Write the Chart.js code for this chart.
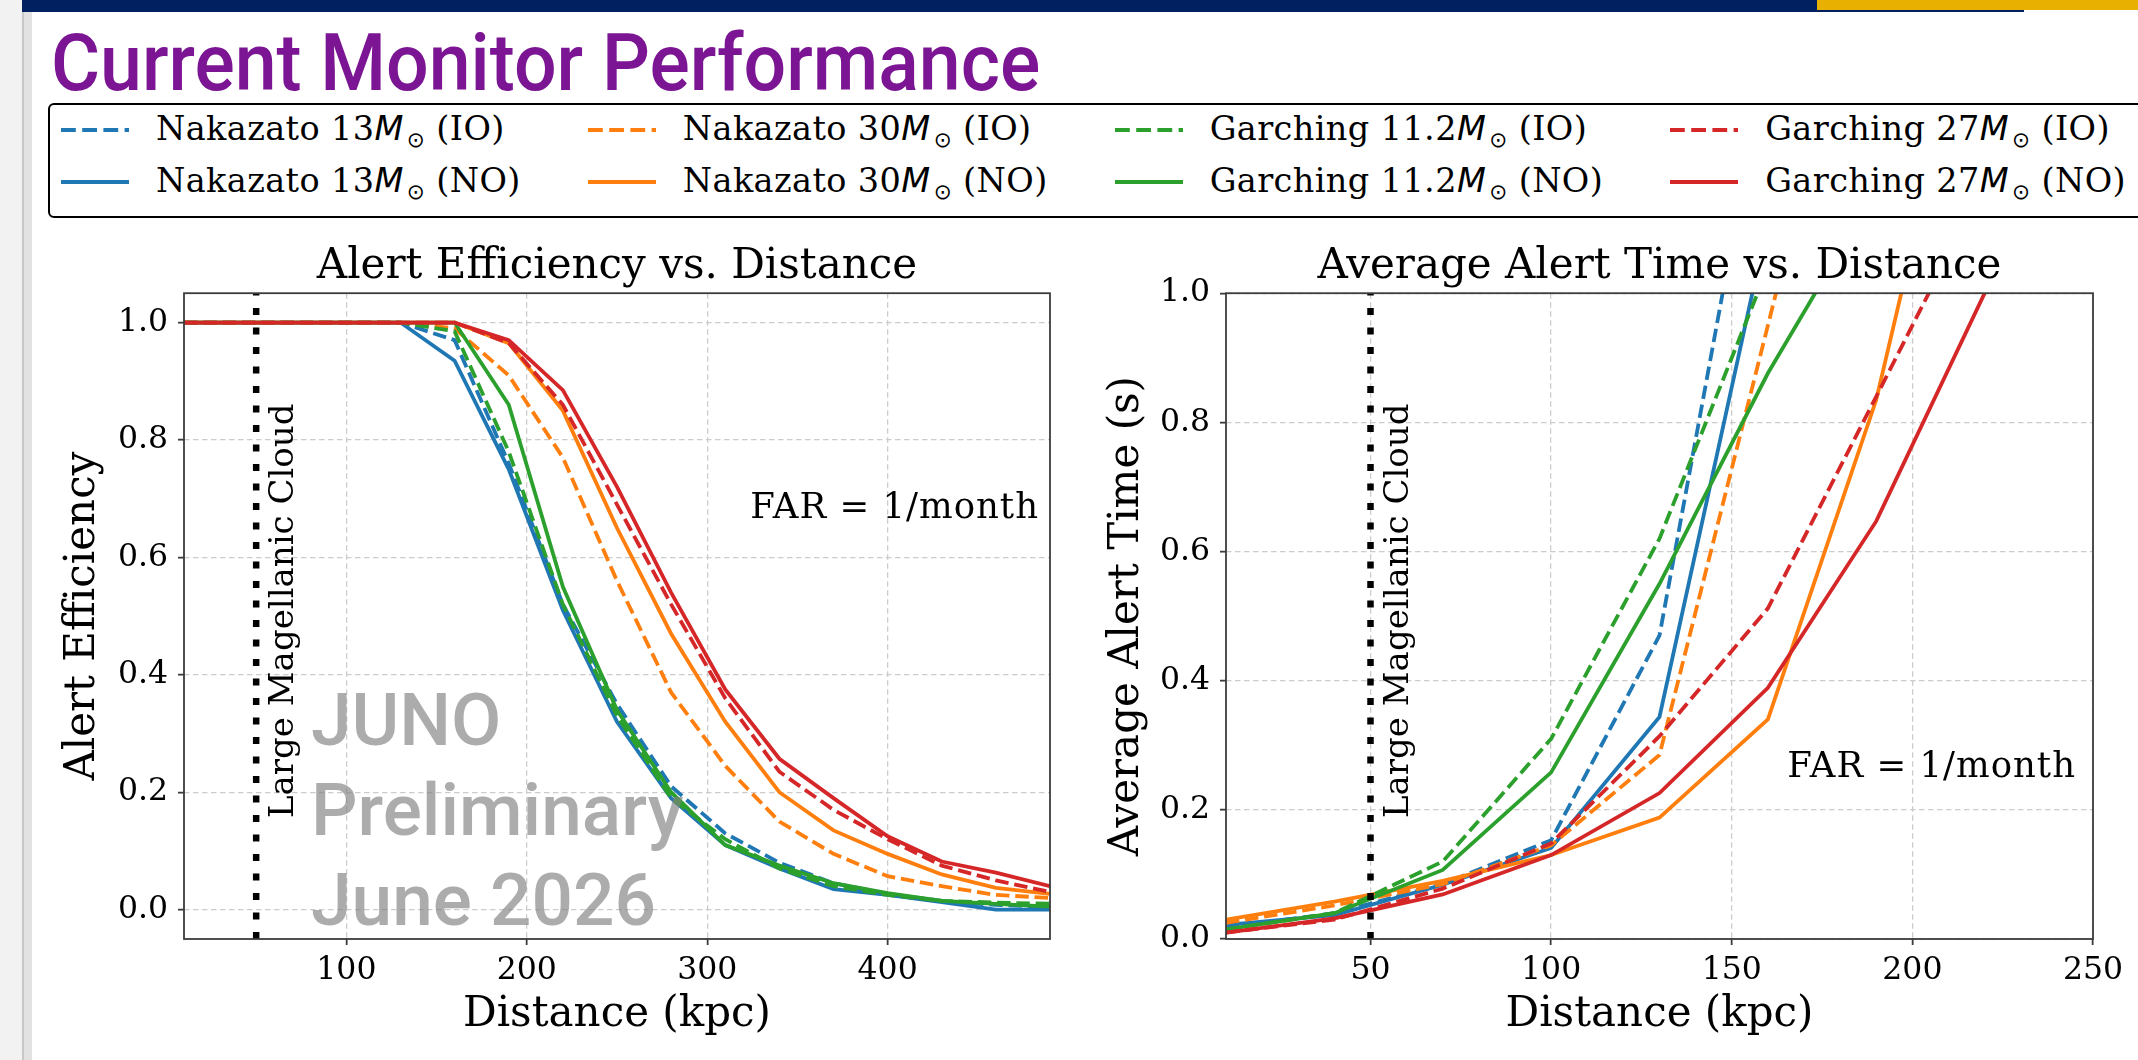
<!DOCTYPE html>
<html>
<head>
<meta charset="utf-8">
<title>Current Monitor Performance</title>
<script src="https://cdn.jsdelivr.net/npm/chart.js@4.4.1/dist/chart.umd.min.js"></script>
<style>
    html, body { margin: 0; padding: 0; background: #ffffff; }
    body { position: relative; width: 2138px; height: 1060px; overflow: hidden; }
    .side { position: absolute; left: 0; top: 0; width: 22px; height: 1060px; background: #f2f2f2; }
    .side-edge { position: absolute; left: 22px; top: 12px; width: 2px; height: 1048px; background: #c8c8c8; }
    .side-shade { position: absolute; left: 24px; top: 12px; width: 8px; height: 1048px; background: #e2e2e2; }
    .bar { position: absolute; left: 22px; top: 0; width: 2002px; height: 12px; background: #002060; }
    .bar-gold { position: absolute; left: 1817px; top: 0; width: 321px; height: 10px; background: #e8b000; }
    #slideTitle { position: absolute; left: 51px; top: 23px; margin: 0; font: 500 80px/80px Roboto, sans-serif; color: #7b1593; white-space: nowrap; transform-origin: 0 0; }
    #legend { position: absolute; left: 48px; top: 103px; width: 2110px; height: 115px; box-sizing: border-box; border: 2.7px solid #000; border-radius: 6px; display: flex; gap: 67px; padding-left: 11px; }
    .legend-col { display: flex; flex-direction: column; padding-top: 7px; }
    .legend-row { position: relative; height: 52px; display: flex; align-items: flex-start; font: 33.5px/33.5px "DejaVu Serif"; letter-spacing: 0.4px; color: #000; white-space: nowrap; }
    .legend-row svg { flex: none; margin-top: 14.3px; margin-right: 27px; }
    .legend-row .m { font-family: "DejaVu Sans"; font-style: italic; }
    .legend-row .sun { position: relative; top: 6.5px; font: 21.5px "DejaVu Sans"; margin-left: 3px; }
    .plot { position: absolute; top: 220px; height: 840px; }
    #watermark { position: absolute; left: 311px; top: 675px; font: 500 73px/90px Roboto, sans-serif; color: rgba(128, 128, 128, 0.65); pointer-events: none; white-space: nowrap; }
</style>
</head>
<body>
<div class="side"></div>
<div class="side-edge"></div>
<div class="side-shade"></div>
<div class="bar"></div>
<div class="bar-gold"></div>
<h1 id="slideTitle">Current Monitor Performance</h1>
<div id="legend"></div>
<div class="plot" style="left: 40px; width: 1040px;"><canvas id="efficiencyCanvas"></canvas></div>
<div class="plot" style="left: 1080px; width: 1058px;"><canvas id="alertTimeCanvas"></canvas></div>
<div id="watermark">JUNO<br>Preliminary<br>June 2026</div>
<script>
// models in legend order, each with IO (dashed) and NO (solid)
const modelNames = ['Nakazato', 'Nakazato', 'Garching', 'Garching'];
const modelMasses = ['13', '30', '11.2', '27'];
const massOrderings = ['IO', 'NO'];
const lmcDistance = 50;

// alert efficiency vs distance (kpc)
const efficiencyDistances = [10, 40, 70, 100, 130, 160, 190, 220, 250, 280, 310, 340, 370, 400, 430, 460, 490];
const efficiencyNakazato13IO = [1, 1, 1, 1, 1, 0.97, 0.76, 0.52, 0.35, 0.21, 0.13, 0.08, 0.045, 0.027, 0.015, 0.008, 0.005];
const efficiencyNakazato13NO = [1, 1, 1, 1, 1, 0.935, 0.75, 0.51, 0.32, 0.19, 0.11, 0.07, 0.035, 0.025, 0.013, 0.0, 0.0];
const efficiencyNakazato30IO = [1, 1, 1, 1, 1, 0.99, 0.91, 0.77, 0.56, 0.37, 0.245, 0.15, 0.095, 0.057, 0.04, 0.025, 0.02];
const efficiencyNakazato30NO = [1, 1, 1, 1, 1, 1, 0.965, 0.85, 0.65, 0.47, 0.32, 0.2, 0.135, 0.095, 0.06, 0.037, 0.027];
const efficiencyGarching11IO = [1, 1, 1, 1, 1, 0.985, 0.78, 0.52, 0.33, 0.19, 0.12, 0.07, 0.04, 0.025, 0.015, 0.012, 0.01];
const efficiencyGarching11NO = [1, 1, 1, 1, 1, 1, 0.86, 0.55, 0.34, 0.2, 0.11, 0.075, 0.045, 0.028, 0.015, 0.01, 0.005];
const efficiencyGarching27IO = [1, 1, 1, 1, 1, 1, 0.965, 0.86, 0.69, 0.52, 0.36, 0.235, 0.17, 0.12, 0.075, 0.05, 0.03];
const efficiencyGarching27NO = [1, 1, 1, 1, 1, 1, 0.97, 0.885, 0.72, 0.54, 0.375, 0.257, 0.19, 0.125, 0.082, 0.063, 0.04];
const efficiencyXLimits = [10, 490];
const efficiencyYLimits = [-0.05, 1.05];
const efficiencyXTicks = [100, 200, 300, 400];
const efficiencyYTicks = [0, 0.2, 0.4, 0.6, 0.8, 1.0];

// average alert time (s) vs distance (kpc), curves leave the plot above 1 s
const alertTimeDistances = [10, 40, 70, 100, 130, 160, 190, 220, 250];
const alertTimeNakazato13IO = [0.018, 0.04, 0.085, 0.153, 0.47, 1.38];
const alertTimeNakazato13NO = [0.022, 0.037, 0.084, 0.141, 0.344, 1.11];
const alertTimeNakazato30IO = [0.025, 0.052, 0.085, 0.145, 0.285, 0.95, 1.62];
const alertTimeNakazato30NO = [0.03, 0.058, 0.09, 0.13, 0.188, 0.34, 0.835, 1.55];
const alertTimeGarching11IO = [0.015, 0.04, 0.12, 0.31, 0.62, 1.04];
const alertTimeGarching11NO = [0.015, 0.04, 0.107, 0.258, 0.55, 0.876, 1.16];
const alertTimeGarching27IO = [0.01, 0.03, 0.078, 0.148, 0.314, 0.512, 0.84, 1.17];
const alertTimeGarching27NO = [0.01, 0.032, 0.069, 0.13, 0.226, 0.389, 0.647, 1.0, 1.4];
const alertTimeXLimits = [10, 250];
const alertTimeYLimits = [0, 1];
const alertTimeXTicks = [50, 100, 150, 200, 250];
const alertTimeYTicks = [0, 0.2, 0.4, 0.6, 0.8, 1.0];

const modelColors = ['#1f77b4', '#ff7f0e', '#2ca02c', '#d62728'];
const serif = '"DejaVu Serif", serif';

Chart.defaults.font.family = serif;
Chart.defaults.color = '#000';

// matplotlib look: full frame, LMC label, FAR note
const annotationPlugin = {
    id: 'annotations',
    afterDatasetsDraw(chart, args, opts) {
        const {ctx, chartArea: {left, right, top, bottom}, scales: {x}} = chart;
        ctx.save();
        ctx.strokeStyle = '#3c3c3c';
        ctx.lineWidth = 1.8;
        ctx.strokeRect(left, top, right - left, bottom - top);
        ctx.fillStyle = '#000';
        ctx.font = '34px ' + serif;
        ctx.textBaseline = 'alphabetic';
        ctx.translate(x.getPixelForValue(lmcDistance) + 37, bottom - 121);
        ctx.rotate(-Math.PI / 2);
        ctx.fillText('Large Magellanic Cloud', 0, 0);
        ctx.restore();

        ctx.save();
        ctx.fillStyle = '#000';
        ctx.font = '35.5px ' + serif;
        ctx.letterSpacing = '1px';
        ctx.textAlign = 'right';
        ctx.textBaseline = 'alphabetic';
        ctx.fillText('FAR = 1/month', right - opts.farRight, top + opts.farBaseline);
        ctx.restore();
    }
};

class DistanceChartView {

    #canvas;
    #chart;

    constructor(canvas) {
        this.#canvas = canvas;
    }

    displayChart(chartDescription) {
        if (this.#chart != null) {
            this.#chart.destroy();
        }
        this.#chart = new Chart(
            this.#canvas,
            {
                type: 'line',
                data: this.#getData(chartDescription),
                options: this.#getOptions(chartDescription),
                plugins: [annotationPlugin]
            });
    }

    #getData(chartDescription) {
        const datasets = chartDescription.series.map((values, i) => {
            const model = Math.floor(i / 2);
            const ordering = i % 2;
            return {
                label: modelNames[model] + ' ' + modelMasses[model] + 'M☉ (' + massOrderings[ordering] + ')',
                data: values.map((y, k) => ({x: chartDescription.distances[k], y: y})),
                borderColor: modelColors[model],
                borderWidth: 3.8,
                borderDash: ordering == 0 ? [13.5, 5.8] : [],
                pointRadius: 0,
                tension: 0,
                order: 8 - i // later series drawn on top
            };
        });
        datasets.push({
            label: 'Large Magellanic Cloud',
            data: [
                {x: lmcDistance, y: chartDescription.yLimits[0]},
                {x: lmcDistance, y: chartDescription.yLimits[1]}
            ],
            borderColor: '#000',
            borderWidth: 6.5,
            borderDash: [7, 12.5],
            pointRadius: 0,
            order: -1
        });
        return {datasets: datasets};
    }

    #getOptions(chartDescription) {
        const tickFont = {size: 31.5};
        const grid = {color: '#cccccc', lineWidth: 1.3, tickColor: '#3c3c3c', tickWidth: 1.8, tickLength: 6};
        return {
            responsive: true,
            maintainAspectRatio: false,
            animation: false,
            layout: {
                padding: {left: 10, right: chartDescription.paddingRight, top: 12, bottom: 0}
            },
            plugins: {
                legend: {display: false},
                tooltip: {enabled: false},
                title: {
                    display: true,
                    text: chartDescription.title,
                    fullSize: false,
                    color: '#000',
                    font: {size: 42, weight: 'normal'},
                    padding: {top: 9.4, bottom: 1.4}
                },
                annotations: chartDescription.annotations
            },
            scales: {
                x: {
                    type: 'linear',
                    min: chartDescription.xLimits[0],
                    max: chartDescription.xLimits[1],
                    afterBuildTicks: scale => {
                        scale.ticks = chartDescription.xTicks.map(v => ({value: v}));
                    },
                    afterFit: scale => {
                        scale.height = 121;
                    },
                    border: {display: false, dash: [5.5, 3.5]},
                    grid: grid,
                    ticks: {
                        color: '#000',
                        font: tickFont,
                        padding: 6.7,
                        maxRotation: 0,
                        autoSkip: false,
                        callback: v => String(v)
                    },
                    title: {
                        display: true,
                        text: 'Distance (kpc)',
                        color: '#000',
                        font: {size: 42},
                        padding: {top: 0, bottom: 20}
                    }
                },
                y: {
                    type: 'linear',
                    min: chartDescription.yLimits[0],
                    max: chartDescription.yLimits[1],
                    afterBuildTicks: scale => {
                        scale.ticks = chartDescription.yTicks.map(v => ({value: v}));
                    },
                    afterFit: scale => {
                        scale.width = chartDescription.yAxisWidth;
                    },
                    border: {display: false, dash: [5.5, 3.5]},
                    grid: grid,
                    ticks: {
                        color: '#000',
                        font: tickFont,
                        padding: 10,
                        autoSkip: false,
                        callback: v => v.toFixed(1)
                    },
                    title: {
                        display: true,
                        text: chartDescription.yTitle,
                        color: '#000',
                        font: {size: 42},
                        padding: {top: chartDescription.yTitlePad, bottom: 0}
                    }
                }
            }
        };
    }
}

function buildLegend() {
    const legend = document.getElementById('legend');
    modelNames.forEach((name, model) => {
        const column = document.createElement('div');
        column.className = 'legend-col';
        massOrderings.forEach((ordering, o) => {
            const row = document.createElement('div');
            row.className = 'legend-row';
            const dash = o == 0 ? ' stroke-dasharray="14.8 6.4"' : '';
            row.innerHTML =
                '<svg width="68" height="8"><line x1="0" y1="4" x2="68" y2="4" stroke="' + modelColors[model] +
                '" stroke-width="4"' + dash + '/></svg>' +
                '<span>' + name + ' ' + modelMasses[model] + '<span class="m">M</span><span class="sun">⊙</span> (' +
                ordering + ')</span>';
            column.appendChild(row);
        });
        legend.appendChild(column);
    });
}

function fitSlideTitle() {
    const title = document.getElementById('slideTitle');
    title.style.transform = 'scaleX(' + (989 / title.offsetWidth) + ')';
}

fitSlideTitle();
buildLegend();

new DistanceChartView(document.getElementById('efficiencyCanvas')).displayChart({
    title: 'Alert Efficiency vs. Distance',
    yTitle: 'Alert Efficiency',
    distances: efficiencyDistances,
    series: [
        efficiencyNakazato13IO, efficiencyNakazato13NO,
        efficiencyNakazato30IO, efficiencyNakazato30NO,
        efficiencyGarching11IO, efficiencyGarching11NO,
        efficiencyGarching27IO, efficiencyGarching27NO
    ],
    xLimits: efficiencyXLimits,
    yLimits: efficiencyYLimits,
    xTicks: efficiencyXTicks,
    yTicks: efficiencyYTicks,
    paddingRight: 30,
    yAxisWidth: 134,
    yTitlePad: 7.8,
    annotations: {farRight: 11, farBaseline: 225}
});

new DistanceChartView(document.getElementById('alertTimeCanvas')).displayChart({
    title: 'Average Alert Time vs. Distance',
    yTitle: 'Average Alert Time (s)',
    distances: alertTimeDistances,
    series: [
        alertTimeNakazato13IO, alertTimeNakazato13NO,
        alertTimeNakazato30IO, alertTimeNakazato30NO,
        alertTimeGarching11IO, alertTimeGarching11NO,
        alertTimeGarching27IO, alertTimeGarching27NO
    ],
    xLimits: alertTimeXLimits,
    yLimits: alertTimeYLimits,
    xTicks: alertTimeXTicks,
    yTicks: alertTimeYTicks,
    paddingRight: 45,
    yAxisWidth: 136,
    yTitlePad: 11.8,
    annotations: {farRight: 17, farBaseline: 484}
});
</script>
</body>
</html>
